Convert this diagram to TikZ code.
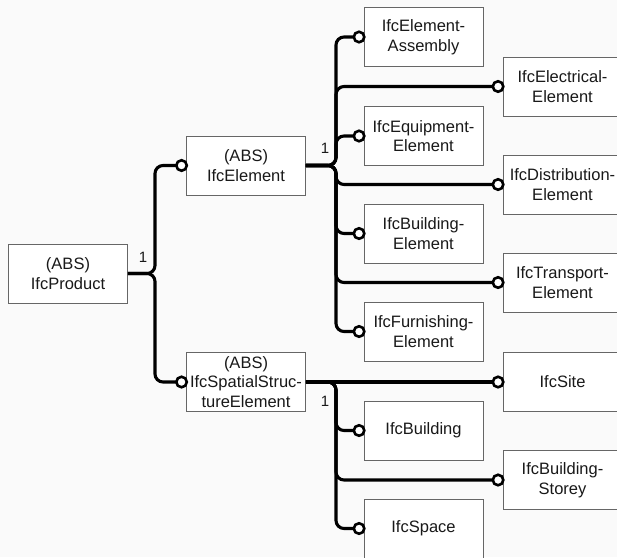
\documentclass[tikz,border=0pt]{standalone}
\usepackage{fontspec}
\setmainfont{Liberation Sans}
\usetikzlibrary{arrows.meta}
\tikzstyle{cls}=[draw=black!60,line width=0.9pt,fill=white,minimum width=119pt,minimum height=59pt,align=center,inner sep=1pt,text=black!90,font=\fontsize{16.5}{19.5}\selectfont]
\tikzstyle{ring}=[circle,draw=black,line width=2.6pt,fill=white,minimum size=10.5pt,inner sep=0pt]
\tikzstyle{link}=[line width=3.1pt,rounded corners=8pt]
\tikzstyle{card}=[text=black!90,font=\fontsize{15}{17}\selectfont]

\begin{document}
\begin{tikzpicture}[x=1pt,y=-1pt]
  \clip (0,0) rectangle (617,557);
  \fill[black!2] (0,0) rectangle (617,557);
  % supertypes
  \node[cls] (prod) at (68,273.5) {(ABS)\\IfcProduct};
  \node[cls] (elem) at (246,165.5) {(ABS)\\IfcElement};
  \node[cls] (spat) at (246,382) {(ABS)\\IfcSpatialStruc-\\tureElement};
  % subtypes of IfcElement
  \node[cls] (asm) at (423.5,37) {IfcElement-\\Assembly};
  \node[cls] (elec) at (562.5,86.5) {IfcElectrical-\\Element};
  \node[cls] (equip) at (423.5,136) {IfcEquipment-\\Element};
  \node[cls] (distr) at (562.5,184.5) {IfcDistribution-\\Element};
  \node[cls] (bldel) at (423.5,233.5) {IfcBuilding-\\Element};
  \node[cls] (trans) at (562.5,282.5) {IfcTransport-\\Element};
  \node[cls] (furn) at (423.5,331.5) {IfcFurnishing-\\Element};
  % subtypes of IfcSpatialStructureElement
  \node[cls] (site) at (562.5,382) {IfcSite};
  \node[cls] (bldg) at (423.5,430.5) {IfcBuilding};
  \node[cls] (storey) at (562.5,480) {IfcBuilding-\\Storey};
  \node[cls] (space) at (423.5,528.5) {IfcSpace};
  % junctions
  \coordinate (jp) at (155,273.5);
  \coordinate (je) at (336,165.5);
  \coordinate (js) at (336,382);
  \node[card] (np) at (143,257) {1};
  \node[card] (ne) at (325,148) {1};
  \node[card] (ns) at (325,401) {1};
  % links
  \foreach \c in {elem,spat}
    \draw[link] (prod.east) -- (jp) |- ([xshift=-4pt]\c.west);
  \foreach \c in {asm,elec,equip,distr,bldel,trans,furn}
    \draw[link] (elem.east) -- (je) |- ([xshift=-4pt]\c.west);
  \draw[link] (spat.east) -- ([xshift=-4pt]site.west);
  \foreach \c in {bldg,storey,space}
    \draw[link] (spat.east) -- (js) |- ([xshift=-4pt]\c.west);
  % rings
  \foreach \c in {elem,spat,asm,elec,equip,distr,bldel,trans,furn,site,bldg,storey,space}
    \node[ring] (r-\c) at ([xshift=-4.5pt]\c.west) {};
\end{tikzpicture}
\end{document}
